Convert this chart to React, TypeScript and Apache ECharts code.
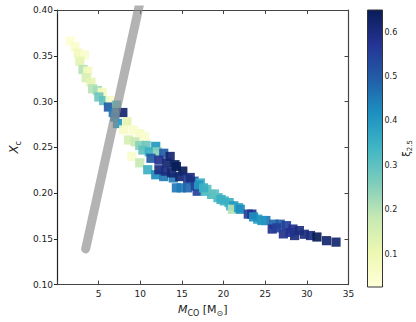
import React, { useEffect, useRef } from "react";
import * as echarts from "echarts";

// CO core mass [Msun]
const mco = [
  1.59, 2.16, 2.55, 3.31, 2.74, 3.13, 3.70, 3.51, 4.08, 4.28, 4.85, 5.43, 5.03, 5.61, 6.38,
  6.18, 7.15, 6.76, 7.91, 6.95, 7.26, 8.41, 8.02, 9.17, 9.94, 10.52, 8.60, 9.37, 9.94, 10.71,
  11.86, 10.32, 11.09, 12.05, 12.82, 13.59, 11.29, 12.24, 13.20, 14.16, 8.99, 9.94, 10.90, 11.86,
  12.82, 13.97, 12.24, 13.01, 13.77, 14.34, 15.11, 14.74, 15.69, 16.46, 17.22, 14.34, 14.92,
  15.69, 16.64, 16.84, 17.79, 18.56, 19.33, 20.09, 20.67, 20.86, 21.24, 21.06, 21.80, 22.01,
  22.97, 24.10, 25.08, 26.03, 26.80, 27.56, 28.33, 29.10, 25.84, 27.18, 28.53, 29.70, 30.44,
  31.21, 32.36, 33.50, 17.00, 18.00, 17.60, 23.40, 16.00, 18.90, 19.70, 23.60, 24.60, 26.40, 28.00,
];
// central carbon mass fraction
const xc = [
  0.366, 0.360, 0.353, 0.351, 0.344, 0.335, 0.333, 0.326, 0.321, 0.314, 0.312, 0.310, 0.305, 0.301, 0.301,
  0.294, 0.296, 0.288, 0.288, 0.283, 0.276, 0.278, 0.269, 0.269, 0.265, 0.262, 0.258, 0.256, 0.252, 0.252,
  0.251, 0.247, 0.245, 0.245, 0.2435, 0.240, 0.238, 0.236, 0.233, 0.231, 0.240, 0.233, 0.2255, 0.220,
  0.218, 0.2165, 0.2255, 0.224, 0.222, 0.229, 0.224, 0.218, 0.215, 0.213, 0.211, 0.2057, 0.2057,
  0.2057, 0.2076, 0.202, 0.202, 0.1985, 0.195, 0.1914, 0.1896, 0.186, 0.186, 0.1823, 0.184, 0.1823,
  0.177, 0.1715, 0.170, 0.166, 0.166, 0.1644, 0.1607, 0.159, 0.1607, 0.1554, 0.1536, 0.155, 0.1536,
  0.152, 0.148, 0.1464, 0.209, 0.204, 0.2057, 0.177, 0.217, 0.199, 0.193, 0.174, 0.170, 0.162, 0.157,
];
// compactness xi_2.5
const xi = [
  0.04, 0.05, 0.08, 0.05, 0.12, 0.20, 0.08, 0.15, 0.12, 0.20, 0.22, 0.08, 0.28, 0.30, 0.06,
  0.50, 0.30, 0.45, 0.62, 0.45, 0.40, 0.12, 0.06, 0.05, 0.06, 0.05, 0.15, 0.18, 0.25, 0.28,
  0.40, 0.30, 0.35, 0.25, 0.50, 0.62, 0.50, 0.58, 0.62, 0.64, 0.05, 0.18, 0.35, 0.42,
  0.45, 0.45, 0.60, 0.60, 0.62, 0.65, 0.65, 0.62, 0.55, 0.50, 0.35, 0.45, 0.45,
  0.48, 0.55, 0.55, 0.33, 0.32, 0.33, 0.33, 0.35, 0.35, 0.40, 0.20, 0.38, 0.42,
  0.55, 0.38, 0.45, 0.48, 0.50, 0.55, 0.58, 0.60, 0.58, 0.58, 0.60, 0.60, 0.60,
  0.66, 0.62, 0.62, 0.40, 0.30, 0.35, 0.58, 0.60, 0.30, 0.35, 0.42, 0.40, 0.55, 0.58,
];

// grey reference line
const lineMco = [3.45, 10.25];
const lineXc = [0.139, 0.42];

const xTickStep = 5;
const yTickStep = 0.05;
const cbarTicks = [0.1, 0.2, 0.3, 0.4, 0.5, 0.6];
const xiMin = 0.026;
const xiMax = 0.65;
const YlGnBu = ["#ffffd9", "#edf8b1", "#c7e9b4", "#7fcdbb", "#41b6c4", "#1d91c0", "#225ea8", "#253494", "#081d58"];

const FONT = "DejaVu Sans";

export default function App() {
  const ref = useRef<HTMLDivElement>(null);
  useEffect(() => {
    document.body.style.margin = "0";
    const chart = echarts.init(ref.current!, null, { renderer: "svg" });
    const tickColor = "#444";
    const labelStyle = { color: "#222", fontSize: 9, fontFamily: FONT };
    const gradient = {
      type: "linear",
      x: 0, y: 0, x2: 0, y2: 1,
      colorStops: YlGnBu.slice().reverse().map((c, i) => ({ offset: i / (YlGnBu.length - 1), color: c })),
    };
    chart.setOption({
      animation: false,
      grid: [
        { left: 44, right: 67.5, top: 10, bottom: 34 },
        { left: 367.5, width: 15, top: 10, bottom: 35, show: true, backgroundColor: gradient, borderColor: "#333", borderWidth: 1 },
      ],
      visualMap: {
        type: "continuous", show: false, seriesIndex: 0, dimension: 2,
        min: xiMin, max: xiMax, inRange: { color: YlGnBu },
      },
      xAxis: [
        {
          gridIndex: 0, type: "value", min: 0, max: 35, interval: xTickStep, position: "bottom",
          axisLine: { onZero: false, lineStyle: { color: tickColor, width: 1.2 } },
          axisTick: { inside: true, length: 4, lineStyle: { color: tickColor } },
          splitLine: { show: false },
          axisLabel: { ...labelStyle, margin: 5, formatter: (v: number) => (v === 0 ? "" : String(v)) },
          name: "{i|M}{s|CO}{n| [M}{s|⊙}{n|]}",
          nameLocation: "middle", nameGap: 13,
          nameTextStyle: {
            rich: {
              i: { fontSize: 11, fontStyle: "italic", fontFamily: FONT, color: "#222", lineHeight: 16 },
              n: { fontSize: 11, fontFamily: FONT, color: "#222", lineHeight: 16 },
              s: { fontSize: 8, fontFamily: FONT, color: "#222", verticalAlign: "bottom" },
            },
          },
        },
        {
          gridIndex: 0, type: "value", min: 0, max: 35, interval: xTickStep, position: "top",
          axisLine: { onZero: false, lineStyle: { color: tickColor, width: 1.2 } },
          axisTick: { inside: true, length: 4, lineStyle: { color: tickColor } },
          axisLabel: { show: false }, splitLine: { show: false },
        },
        { gridIndex: 1, type: "value", min: 0, max: 1, show: false },
      ],
      yAxis: [
        {
          gridIndex: 0, type: "value", min: 0.1, max: 0.4, interval: yTickStep, position: "left",
          axisLine: { onZero: false, lineStyle: { color: "#222", width: 1.2 } },
          axisTick: { inside: false, length: 3, lineStyle: { color: "#222" } },
          splitLine: { show: false },
          axisLabel: { ...labelStyle, margin: 4, formatter: (v: number) => v.toFixed(2) },
          name: "{i|X}{s|c}",
          nameLocation: "middle", nameRotate: 90, nameGap: 27,
          nameTextStyle: {
            rich: {
              i: { fontSize: 12, fontStyle: "italic", fontFamily: FONT, color: "#222", lineHeight: 16 },
              s: { fontSize: 8, fontFamily: FONT, color: "#222", verticalAlign: "bottom" },
            },
          },
        },
        {
          gridIndex: 0, type: "value", min: 0.1, max: 0.4, interval: yTickStep, position: "right",
          axisLine: { onZero: false, lineStyle: { color: tickColor, width: 1.2 } },
          axisTick: { inside: true, length: 4, lineStyle: { color: tickColor } },
          axisLabel: { show: false }, splitLine: { show: false },
        },
        {
          gridIndex: 1, type: "value", min: xiMin, max: xiMax, position: "right",
          axisLine: { show: false }, axisTick: { show: false }, splitLine: { show: false },
          axisLabel: { color: "#222", fontSize: 8, fontFamily: FONT, margin: 2, customValues: cbarTicks, formatter: (v: number) => v.toFixed(1) },
          name: "{n|ξ}{s|2.5}",
          nameLocation: "middle", nameRotate: 90, nameGap: 14,
          nameTextStyle: {
            rich: {
              n: { fontSize: 10, fontFamily: FONT, color: "#222", lineHeight: 14 },
              s: { fontSize: 7, fontFamily: FONT, color: "#222", verticalAlign: "bottom" },
            },
          },
        },
      ],
      series: [
        {
          type: "scatter", xAxisIndex: 0, yAxisIndex: 0, symbol: "rect", symbolSize: 9.2,
          itemStyle: { opacity: 0.92 },
          data: mco.map((m, i) => [m, xc[i], xi[i]]),
          z: 2,
        },
        {
          type: "line", xAxisIndex: 0, yAxisIndex: 0, symbol: "none", silent: true,
          data: lineMco.map((m, i) => [m, lineXc[i]]),
          lineStyle: { width: 9, color: "#8a8a8a", opacity: 0.65, cap: "round" },
          z: 3,
        },
      ],
    });
    return () => chart.dispose();
  }, []);
  return <div ref={ref} style={{ width: 416, height: 322 }} />;
}
